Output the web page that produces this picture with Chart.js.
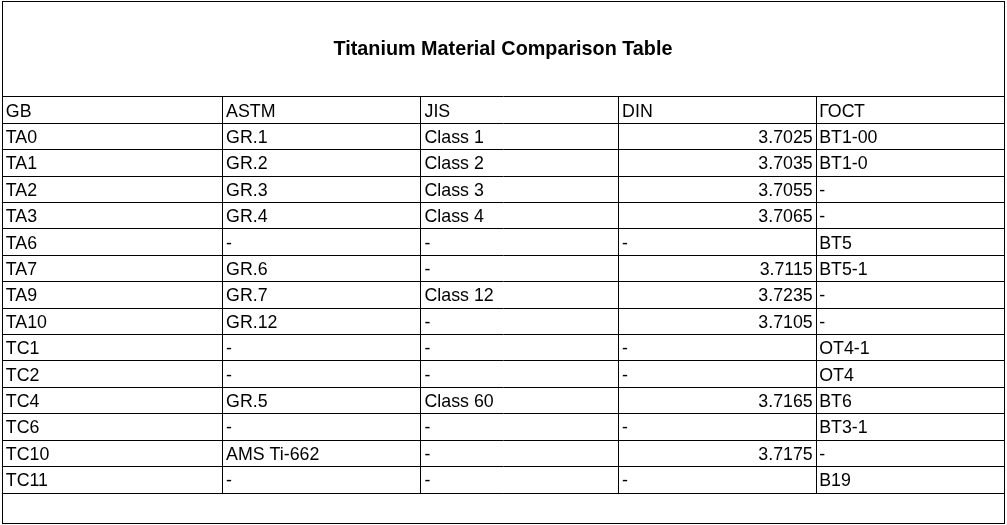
<!DOCTYPE html>
<html>
<head>
<meta charset="utf-8">
<script src="https://cdn.jsdelivr.net/npm/chart.js@4"></script>
<style>
  html, body { margin: 0; padding: 0; background: #fff; }
  #wrap { position: relative; width: 1007px; height: 525px; }
  #frame { position: absolute; left: 2px; top: 1px; width: 1003px; height: 523px;
           box-sizing: border-box; border: 1px solid #000; pointer-events: none; }
</style>
</head>
<body>
<div id="wrap">
  <canvas id="c"></canvas>
  <div id="frame"></div>
</div>
<script>
// ---- data ----
const title = "Titanium Material Comparison Table";
const headers = ["GB", "ASTM", "JIS", "DIN", "ГОСТ"];
const gb   = ["TA0","TA1","TA2","TA3","TA6","TA7","TA9","TA10","TC1","TC2","TC4","TC6","TC10","TC11"];
const astm = ["GR.1","GR.2","GR.3","GR.4","-","GR.6","GR.7","GR.12","-","-","GR.5","-","AMS Ti-662","-"];
const jis  = ["Class 1","Class 2","Class 3","Class 4","-","-","Class 12","-","-","-","Class 60","-","-","-"];
const din  = [3.7025,3.7035,3.7055,3.7065,null,3.7115,3.7235,3.7105,null,null,3.7165,null,3.7175,null];
const gost = ["BT1-00","BT1-0","-","-","BT5","BT5-1","-","-","OT4-1","OT4","BT6","BT3-1","-","B19"];

// ---- layout (column boundaries in table units) ----
const colEdges = [0, 220.3, 418.7, 616.3, 814.7, 1002];
const columns = [gb, astm, jis, din, gost];
const nRows = gb.length + 1; // header + data rows

const FONT = 'Liberation Sans, Arial, sans-serif';

function cellText(c, r) {
  if (r === 0) return { text: headers[c], right: false };
  const v = columns[c][r - 1];
  if (typeof v === 'number') return { text: v.toFixed(4), right: true };
  if (v === null) return { text: '-', right: false };
  return { text: v, right: false };
}

const datasets = columns.map((col, c) => ({
  label: headers[c],
  data: [{ x: colEdges[c], y: 0.5 }].concat(col.map((v, i) => ({ x: colEdges[c], y: i + 1.5 }))),
  pointRadius: 0,
  pointHoverRadius: 0,
  showLine: false
}));

const cellPlugin = {
  id: 'cells',
  afterDatasetsDraw(chart) {
    const ctx = chart.ctx;
    const xs = chart.scales.x, ys = chart.scales.y;
    ctx.save();
    ctx.fillStyle = '#000';
    ctx.font = '17.8px ' + FONT;
    ctx.textBaseline = 'middle';
    for (let c = 0; c < columns.length; c++) {
      for (let r = 0; r < nRows; r++) {
        const cell = cellText(c, r);
        const y = ys.getPixelForValue(r + 0.5) + 1.5;
        if (cell.right) {
          ctx.textAlign = 'right';
          ctx.fillText(cell.text, xs.getPixelForValue(colEdges[c + 1]) - 4, y);
        } else {
          ctx.textAlign = 'left';
          const pad = (c === columns.length - 1) ? 2.5 : 3.8;
          ctx.fillText(cell.text, xs.getPixelForValue(colEdges[c]) + pad, y);
        }
      }
    }
    ctx.restore();
  }
};

new Chart(document.getElementById('c'), {
  type: 'scatter',
  data: { datasets },
  options: {
    responsive: true,
    maintainAspectRatio: false,
    animation: false,
    events: [],
    layout: { padding: { left: 2, right: 3, top: 0, bottom: 32 } },
    plugins: {
      legend: { display: false },
      tooltip: { enabled: false },
      title: {
        display: true,
        text: title,
        color: '#000',
        font: { family: FONT, size: 19.8, weight: 'bold', lineHeight: 1.2 },
        padding: { top: 38, bottom: 35.2 }
      }
    },
    scales: {
      x: {
        type: 'linear',
        min: colEdges[0],
        max: colEdges[colEdges.length - 1],
        afterBuildTicks: (s) => { s.ticks = colEdges.map(v => ({ value: v })); },
        ticks: { display: false },
        grid: { color: '#000', lineWidth: 1, drawTicks: false },
        border: { display: true, color: '#000', width: 1 }
      },
      y: {
        type: 'linear',
        reverse: true,
        min: 0,
        max: nRows,
        afterBuildTicks: (s) => { s.ticks = Array.from({ length: nRows + 1 }, (_, i) => ({ value: i })); },
        ticks: { display: false },
        grid: { color: '#000', lineWidth: 1, drawTicks: false },
        border: { display: true, color: '#000', width: 1 }
      }
    }
  },
  plugins: [cellPlugin]
});
</script>
</body>
</html>
